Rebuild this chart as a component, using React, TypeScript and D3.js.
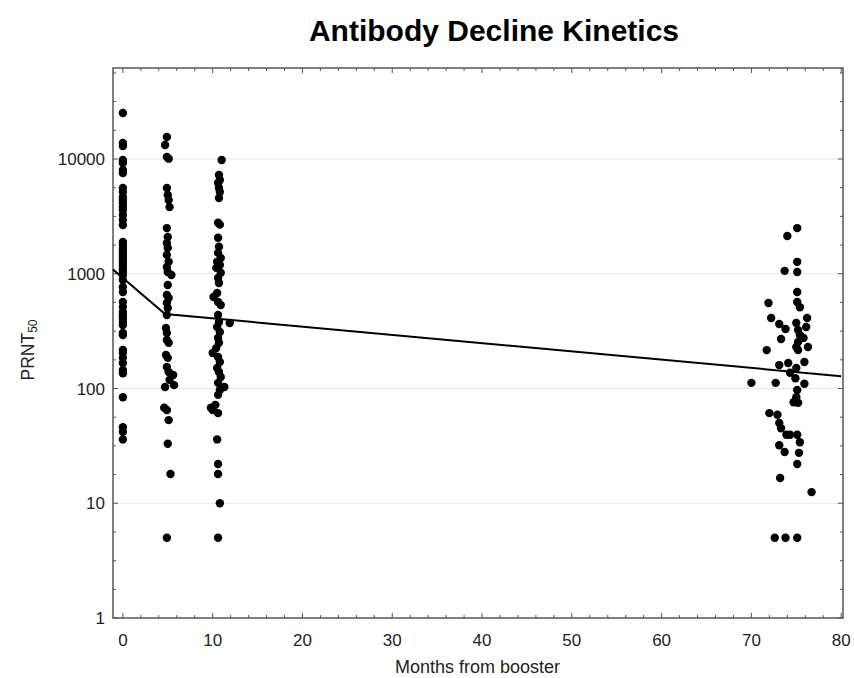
import React from 'react';
import * as d3 from 'd3';

// [months from booster, PRNT50]
const baselinePoints: [number, number][] = [
  [0, 25200], [0, 13800], [0, 12970], [0, 9800], [0, 9230], [0, 8020], [0, 7550],
  [0, 5590], [0, 5160], [0, 4670], [0, 4390], [0, 4140], [0, 3810], [0, 3590],
  [0, 3250], [0, 2940], [0, 2660], [0, 1890], [0, 1780], [0, 1680], [0, 1580],
  [0, 1490], [0, 1400], [0, 1320], [0, 1240], [0, 1170], [0, 1100], [0, 1035],
  [0, 975], [0, 883], [0, 767], [0, 693], [0, 567], [0, 513], [0, 464], [0, 437],
  [0, 412], [0, 380], [0, 358], [0, 305], [0, 293], [0, 217], [0, 204], [0, 185],
  [0, 167], [0, 145], [0, 136], [0, 84], [0, 46], [0, 42], [0, 36]
];

const fiveMonthPoints: [number, number][] = [
  [4.9, 15560], [4.7, 13240], [4.9, 10400], [5.1, 10070], [4.9, 5590], [5.0, 4850],
  [5.1, 4390], [5.2, 3810], [4.9, 2500], [5.0, 2090], [4.9, 1850], [5.0, 1680],
  [4.9, 1460], [5.1, 1270], [4.9, 1145], [5.0, 1035], [5.4, 975], [5.0, 798],
  [4.9, 653], [5.1, 615], [4.9, 556], [5.0, 503], [4.9, 437], [4.8, 337], [4.9, 305],
  [4.9, 265], [5.1, 250], [4.8, 196], [5.0, 185], [4.9, 154], [5.1, 139], [5.6, 131],
  [5.2, 119], [5.7, 107], [4.7, 103], [4.6, 68], [4.9, 65], [5.1, 53], [5.0, 33],
  [5.3, 18], [4.9, 5]
];

const elevenMonthPoints: [number, number][] = [
  [11.0, 9800], [10.7, 7260], [10.8, 6570], [10.6, 6180], [10.7, 5590], [10.8, 5160],
  [10.7, 4570], [10.6, 2780], [10.8, 2680], [10.6, 2060], [10.7, 1720], [10.6, 1520],
  [10.9, 1370], [10.5, 1270], [10.8, 1190], [10.4, 1125], [10.9, 1020], [10.6, 920],
  [10.7, 830], [10.5, 680], [10.1, 627], [10.6, 567], [10.9, 534], [10.6, 437],
  [10.7, 380], [10.5, 344], [10.8, 311], [10.6, 276], [10.7, 250], [10.4, 225],
  [10.0, 204], [10.6, 188], [10.8, 170], [10.5, 151], [10.7, 139], [10.9, 126],
  [10.6, 112], [11.3, 103], [10.8, 97], [10.6, 88], [10.3, 72], [9.8, 68], [10.0, 65],
  [10.6, 61], [10.5, 36], [10.6, 22], [10.6, 18], [10.8, 10], [10.6, 5], [11.9, 372]
];

const longTermPoints: [number, number][] = [
  [75.1, 2500], [74.0, 2130], [75.1, 1270], [73.7, 1060], [75.1, 1035], [75.1, 694],
  [75.1, 567], [75.4, 510], [71.9, 556], [72.2, 412], [76.2, 412], [73.1, 365],
  [73.8, 330], [73.3, 270], [75.0, 372], [76.1, 344], [75.2, 323], [75.4, 293],
  [75.8, 276], [75.2, 254], [75.0, 230], [76.3, 230], [75.2, 216], [71.7, 216],
  [73.1, 160], [74.1, 167], [75.0, 151], [75.9, 170], [74.3, 137], [74.9, 123],
  [70.0, 112], [72.7, 112], [75.9, 110], [75.1, 97], [75.0, 84], [74.7, 76],
  [75.2, 75], [72.0, 61], [72.9, 59], [73.1, 50], [73.3, 45], [73.9, 39.5],
  [74.3, 39.5], [75.1, 39.5], [75.4, 34], [73.1, 32], [73.7, 28], [75.3, 27.5],
  [75.1, 22], [73.2, 16.6], [76.7, 12.5], [72.6, 5], [73.8, 5], [75.1, 5]
];

// piecewise decline model
const fitMonths = [0, 4.7, 80];
const fitValues = [920, 446, 128];

const xTicks = [0, 10, 20, 30, 40, 50, 60, 70, 80];
const yTicks = [1, 10, 100, 1000, 10000];

const W = 854;
const H = 678;
const margin = { left: 113, right: 11, top: 68, bottom: 60 };
const font = '"Liberation Sans", Arial, Helvetica, sans-serif';

export default function App() {
  const x = d3.scaleLinear().domain([-1.1, 80.2]).range([margin.left, W - margin.right]);
  const y = d3.scaleLog().domain([1, 62100]).range([H - margin.bottom, margin.top]);
  const [x0, x1] = x.range();
  const [y0, y1] = y.range();

  const all = [...baselinePoints, ...fiveMonthPoints, ...elevenMonthPoints, ...longTermPoints];

  // extend first segment back to the left edge of the frame
  const slope = (Math.log10(fitValues[1]) - Math.log10(fitValues[0])) / (fitMonths[1] - fitMonths[0]);
  const xMin = x.domain()[0];
  const startVal = Math.pow(10, Math.log10(fitValues[0]) + slope * (xMin - fitMonths[0]));
  const fitData: [number, number][] = [[xMin, startVal], ...fitMonths.map((m, i) => [m, fitValues[i]] as [number, number])];
  const line = d3.line<[number, number]>().x((d) => x(d[0])).y((d) => y(d[1]));

  const minorX = d3.range(0, 81, 2);
  const minorY = d3.range(0, 20).map((k) => Math.pow(10, k / 4)).filter((v) => v <= y.domain()[1]);

  return (
    <svg width={W} height={H} style={{ position: 'absolute', left: 0, top: 0, background: '#fff' }} fontFamily={font}>
      <text x={494} y={41} textAnchor="middle" fontSize={30} fontWeight="bold" fill="#000">
        Antibody Decline Kinetics
      </text>

      {yTicks.slice(1).map((t) => (
        <line key={'g' + t} x1={x0} x2={x1} y1={y(t)} y2={y(t)} stroke="#e6e6e6" strokeWidth={1} />
      ))}

      {minorX.map((t) => {
        const len = t % 10 === 0 ? 5 : 3;
        return (
          <g key={'mx' + t} stroke="#555" strokeWidth={1}>
            <line x1={x(t)} x2={x(t)} y1={y0} y2={y0 - len} />
            <line x1={x(t)} x2={x(t)} y1={y1} y2={y1 + len} />
          </g>
        );
      })}
      {minorY.map((t, i) => {
        const len = i % 4 === 0 ? 5 : 3;
        return (
          <g key={'my' + i} stroke="#555" strokeWidth={1}>
            <line x1={x0} x2={x0 + len} y1={y(t)} y2={y(t)} />
            <line x1={x1} x2={x1 - len} y1={y(t)} y2={y(t)} />
          </g>
        );
      })}

      <rect x={x0} y={y1} width={x1 - x0} height={y0 - y1} fill="none" stroke="#555" strokeWidth={1.5} />

      {yTicks.map((t) => (
        <text key={'yl' + t} x={x0 - 8} y={y(t)} dy="0.36em" textAnchor="end" fontSize={17} fill="#222">
          {t}
        </text>
      ))}
      {xTicks.map((t) => (
        <text key={'xl' + t} x={x(t)} y={y0 + 28} textAnchor="middle" fontSize={17} fill="#222">
          {t}
        </text>
      ))}

      <text x={x(39.5)} y={H - 5} textAnchor="middle" fontSize={18} fill="#222">
        Months from booster
      </text>
      <text transform={`translate(34, 350) rotate(-90)`} textAnchor="middle" fontSize={17.5} fill="#222">
        PRNT<tspan fontSize={12} dy={3}>50</tspan>
      </text>

      <path d={line(fitData) ?? ''} fill="none" stroke="#000" strokeWidth={2} />

      {all.map((d, i) => (
        <circle key={i} cx={x(d[0])} cy={y(d[1])} r={4.2} fill="#000" />
      ))}
    </svg>
  );
}
